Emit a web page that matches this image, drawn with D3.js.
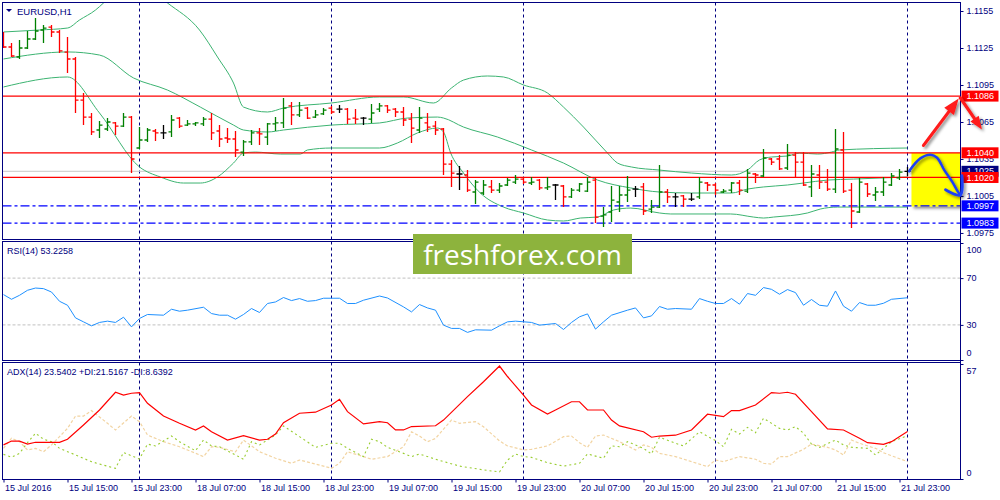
<!DOCTYPE html>
<html>
<head>
<meta charset="utf-8">
<script src="https://cdn.jsdelivr.net/npm/d3@7"></script>
<style>
  body { margin: 0; background: #fff; }
  svg { display: block; font-family: "Liberation Sans", Arial, sans-serif; }
</style>
</head>
<body>
<div id="chart"></div>
<script>
// ---- data ----
const symbolTitle = 'EURUSD,H1';
const rsiTitle = 'RSI(14) 53.2258';
const adxTitle = 'ADX(14) 23.5402 +DI:21.5167 -DI:8.6392';

const timeLabels = ['15 Jul 2016', '15 Jul 15:00', '15 Jul 23:00', '18 Jul 07:00', '18 Jul 15:00',
  '18 Jul 23:00', '19 Jul 07:00', '19 Jul 15:00', '19 Jul 23:00', '20 Jul 07:00', '20 Jul 15:00',
  '20 Jul 23:00', '21 Jul 07:00', '21 Jul 15:00', '21 Jul 23:00'];
const timeLabelBars = [0, 8, 16, 24, 32, 40, 48, 56, 64, 72, 80, 88, 96, 104, 112];
const daySeparators = [17, 41, 65, 89, 113];

const barOpen = [1.11282, 1.11258, 1.11177, 1.11250, 1.11323, 1.11396, 1.11420, 1.11380, 1.11217, 1.11161,
  1.10828, 1.10690, 1.10585, 1.10593, 1.10642, 1.10617, 1.10690, 1.10439, 1.10504, 1.10577,
  1.10561, 1.10569, 1.10682, 1.10625, 1.10634, 1.10634, 1.10674, 1.10577, 1.10520, 1.10512,
  1.10406, 1.10488, 1.10561, 1.10528, 1.10634, 1.10642, 1.10780, 1.10707, 1.10763, 1.10690,
  1.10715, 1.10763, 1.10755, 1.10755, 1.10682, 1.10682, 1.10674, 1.10755, 1.10780, 1.10755,
  1.10731, 1.10674, 1.10585, 1.10642, 1.10617, 1.10593, 1.10309, 1.10228, 1.10220, 1.10082,
  1.10074, 1.10123, 1.10098, 1.10139, 1.10163, 1.10187, 1.10155, 1.10179, 1.10115, 1.10139,
  1.10131, 1.10042, 1.10098, 1.10090, 1.10179, 1.09887, 1.09920, 1.10001, 1.10058, 1.10106,
  1.10123, 1.09944, 1.09960, 1.10082, 1.10042, 1.10050, 1.10025, 1.10042, 1.10155, 1.10139,
  1.10082, 1.10098, 1.10155, 1.10090, 1.10228, 1.10212, 1.10350, 1.10350, 1.10277, 1.10382,
  1.10325, 1.10123, 1.10220, 1.10163, 1.10106, 1.10423, 1.10098, 1.09920, 1.10147, 1.10058,
  1.10082, 1.10139, 1.10196, 1.10250];
const barHigh = [1.11380, 1.11290, 1.11315, 1.11388, 1.11493, 1.11436, 1.11436, 1.11396, 1.11339, 1.11177,
  1.10885, 1.10723, 1.10658, 1.10682, 1.10650, 1.10723, 1.10698, 1.10609, 1.10601, 1.10593,
  1.10625, 1.10707, 1.10690, 1.10666, 1.10650, 1.10690, 1.10723, 1.10625, 1.10601, 1.10577,
  1.10504, 1.10585, 1.10601, 1.10642, 1.10690, 1.10844, 1.10812, 1.10812, 1.10771, 1.10747,
  1.10763, 1.10780, 1.10788, 1.10763, 1.10755, 1.10690, 1.10796, 1.10804, 1.10788, 1.10763,
  1.10771, 1.10723, 1.10771, 1.10723, 1.10658, 1.10601, 1.10342, 1.10293, 1.10260, 1.10179,
  1.10179, 1.10179, 1.10155, 1.10196, 1.10220, 1.10204, 1.10204, 1.10187, 1.10204, 1.10147,
  1.10139, 1.10115, 1.10155, 1.10204, 1.10196, 1.09960, 1.10131, 1.10131, 1.10212, 1.10131,
  1.10155, 1.10017, 1.10301, 1.10106, 1.10074, 1.10058, 1.10074, 1.10204, 1.10163, 1.10155,
  1.10106, 1.10163, 1.10179, 1.10269, 1.10236, 1.10431, 1.10358, 1.10382, 1.10471, 1.10406,
  1.10406, 1.10301, 1.10301, 1.10269, 1.10593, 1.10569, 1.10155, 1.10196, 1.10155, 1.10123,
  1.10204, 1.10236, 1.10269, 1.10285];
const barLow = [1.11250, 1.11177, 1.11161, 1.11242, 1.11315, 1.11290, 1.11339, 1.11209, 1.11047, 1.10723,
  1.10625, 1.10544, 1.10520, 1.10577, 1.10544, 1.10609, 1.10236, 1.10431, 1.10488, 1.10496,
  1.10512, 1.10528, 1.10601, 1.10617, 1.10617, 1.10617, 1.10504, 1.10447, 1.10480, 1.10366,
  1.10374, 1.10463, 1.10463, 1.10463, 1.10577, 1.10601, 1.10625, 1.10690, 1.10674, 1.10682,
  1.10707, 1.10715, 1.10723, 1.10634, 1.10634, 1.10625, 1.10642, 1.10731, 1.10723, 1.10690,
  1.10617, 1.10480, 1.10561, 1.10569, 1.10544, 1.10220, 1.10123, 1.10098, 1.10082, 1.09985,
  1.10058, 1.10074, 1.10074, 1.10131, 1.10147, 1.10147, 1.10139, 1.10098, 1.10098, 1.10017,
  1.09960, 1.10034, 1.10082, 1.10082, 1.09831, 1.09798, 1.09839, 1.09920, 1.10001, 1.10042,
  1.09896, 1.09912, 1.09952, 1.09993, 1.09960, 1.09960, 1.10009, 1.10025, 1.10090, 1.10058,
  1.10074, 1.10074, 1.10058, 1.10074, 1.10155, 1.10204, 1.10301, 1.10260, 1.10260, 1.10204,
  1.10131, 1.10042, 1.10106, 1.10090, 1.10074, 1.10074, 1.09790, 1.09912, 1.10042, 1.10009,
  1.10050, 1.10131, 1.10179, 1.10212];
const barClose = [1.11258, 1.11185, 1.11250, 1.11323, 1.11388, 1.11412, 1.11380, 1.11226, 1.11161, 1.10828,
  1.10690, 1.10569, 1.10625, 1.10650, 1.10617, 1.10690, 1.10350, 1.10504, 1.10585, 1.10561,
  1.10561, 1.10666, 1.10617, 1.10634, 1.10642, 1.10674, 1.10561, 1.10512, 1.10512, 1.10423,
  1.10488, 1.10561, 1.10553, 1.10634, 1.10642, 1.10763, 1.10707, 1.10747, 1.10682, 1.10707,
  1.10747, 1.10731, 1.10755, 1.10674, 1.10674, 1.10682, 1.10723, 1.10780, 1.10747, 1.10731,
  1.10666, 1.10601, 1.10682, 1.10609, 1.10585, 1.10309, 1.10236, 1.10228, 1.10098, 1.10163,
  1.10139, 1.10098, 1.10131, 1.10179, 1.10187, 1.10163, 1.10163, 1.10115, 1.10123, 1.10139,
  1.10042, 1.10098, 1.10147, 1.10163, 1.09879, 1.09896, 1.10017, 1.10058, 1.10098, 1.10106,
  1.09928, 1.09960, 1.10082, 1.10042, 1.10042, 1.10025, 1.10025, 1.10163, 1.10139, 1.10098,
  1.10090, 1.10155, 1.10098, 1.10236, 1.10220, 1.10358, 1.10325, 1.10269, 1.10382, 1.10325,
  1.10139, 1.10228, 1.10163, 1.10106, 1.10431, 1.10090, 1.09928, 1.10163, 1.10066, 1.10082,
  1.10163, 1.10212, 1.10244, 1.10250];

// Bollinger bands, [bar, price]
const bbUpper = [[0, 1.11380], [4.5, 1.11396], [8, 1.11412], [9.5, 1.11477], [11.5, 1.11558], [12.5, 1.11615],
  [14.5, 1.11736], [17, 1.11761], [19, 1.11688], [20.5, 1.11615], [24.5, 1.11396], [26.75, 1.11177],
  [28.75, 1.10966], [30, 1.10771], [33, 1.10731], [35, 1.10763], [41, 1.10804], [47, 1.10853],
  [50, 1.10853], [53.75, 1.10804], [56, 1.10926], [57.5, 1.10990], [60.5, 1.11023], [62.5, 1.11015],
  [65, 1.10950], [68, 1.10885], [70, 1.10771], [72.5, 1.10609], [75.5, 1.10398], [76.75, 1.10317],
  [78.5, 1.10285], [82, 1.10260], [86, 1.10236], [91, 1.10220], [93, 1.10260], [94.5, 1.10342],
  [96, 1.10366], [98, 1.10374], [99.5, 1.10398], [101.75, 1.10390], [103.5, 1.10406], [104.5, 1.10423],
  [113, 1.10439]];
const bbMiddle = [[0, 1.11161], [8, 1.11218], [12, 1.11193], [16.25, 1.11007], [20.5, 1.10909], [24.6, 1.10771],
  [28.75, 1.10625], [30, 1.10585], [33, 1.10569], [35, 1.10585], [41, 1.10625], [47, 1.10642],
  [50.5, 1.10682], [54.25, 1.10690], [55, 1.10682], [57.5, 1.10609], [61.75, 1.10528], [66, 1.10423],
  [70, 1.10317], [74.25, 1.10179], [78.4, 1.10115], [82, 1.10082], [86, 1.10074], [91, 1.10074],
  [93, 1.10106], [95, 1.10123], [98, 1.10139], [100, 1.10155], [103, 1.10179], [106.25, 1.10187],
  [113, 1.10204]];
const bbLower = [[0, 1.10934], [8, 1.11015], [12, 1.10723], [17, 1.10285], [19.6, 1.10204], [22.5, 1.10155],
  [24.6, 1.10155], [26.75, 1.10204], [28.75, 1.10317], [30, 1.10398], [31.5, 1.10406], [34.6, 1.10390],
  [37.1, 1.10390], [38, 1.10423], [41, 1.10439], [47, 1.10439], [49.25, 1.10480], [51.75, 1.10561],
  [54.25, 1.10601], [55, 1.10569], [55.9, 1.10398], [57.5, 1.10236], [59.6, 1.10074], [62.5, 1.09960],
  [65, 1.09912], [68, 1.09855], [70, 1.09847], [72.1, 1.09871], [74.25, 1.09879], [76.25, 1.09936],
  [78.4, 1.09952], [82, 1.09912], [83.4, 1.09904], [90.9, 1.09904], [93.75, 1.09879], [95, 1.09871],
  [96.25, 1.09879], [100.5, 1.09912], [102.1, 1.09944], [104.25, 1.09960], [113, 1.09960]];

const redLevels = [1.1086, 1.1040, 1.1020];
const blueLevels = [1.0997, 1.0983];
const bidPrice = 1.1025;
const priceTicks = [1.1155, 1.1125, 1.1095, 1.1065, 1.1035, 1.1005, 1.0975];
const priceMarks = [1.1086, 1.1040, 1.1025, 1.1020, 1.0997, 1.0983];
const priceMarkColors = ['#ff0000', '#ff0000', '#000080', '#ff0000', '#0000ff', '#0000ff'];

// RSI(14), [bar, value]
const rsi = [[0, 55.9], [1, 51.9], [2, 55.3], [3, 59.6], [4, 61.5], [5, 61.0], [6, 58.1], [7, 50.2], [8, 46.8],
  [9, 36.0], [10, 32.6], [11, 29.2], [12, 32.1], [13, 33.2], [14, 32.1], [15, 36.6], [16, 28.3], [17, 35.5],
  [18, 38.9], [20, 38.3], [21, 43.4], [22, 41.7], [23, 42.6], [25, 45.1], [26, 39.7], [27, 38.3], [28, 38.3],
  [29, 34.9], [30, 38.9], [31, 44.0], [32, 40.6], [33, 48.3], [34, 49.6], [35, 53.4], [36, 50.8], [37, 52.5],
  [38, 50.2], [39, 50.8], [40, 52.8], [42, 52.8], [43, 48.3], [44, 48.3], [45, 51.1], [47, 54.7], [48, 53.0],
  [50, 45.4], [51, 41.1], [52, 47.4], [53, 44.5], [54, 42.6], [55, 29.8], [56, 27.0], [57, 27.0], [58, 23.6],
  [59, 25.8], [61, 25.5], [62, 29.2], [63, 32.6], [64, 33.2], [66, 32.1], [67, 29.8], [69, 31.2], [70, 26.1],
  [71, 32.1], [72, 36.9], [73, 39.4], [74, 26.4], [75, 32.6], [76, 38.3], [78, 42.6], [79, 44.5], [80, 36.0],
  [81, 37.7], [82, 45.7], [83, 43.4], [84, 44.0], [86, 43.4], [87, 52.5], [88, 50.2], [89, 48.3], [90, 48.3],
  [91, 52.5], [92, 47.7], [93, 56.8], [94, 55.3], [95, 61.9], [96, 60.4], [97, 56.2], [98, 60.2], [99, 57.6],
  [100, 46.8], [101, 51.7], [102, 46.8], [103, 46.0], [104, 59.0], [105, 46.0], [106, 41.7], [107, 49.1],
  [108, 46.8], [109, 46.8], [110, 48.5], [111, 51.9], [113, 53.2]];
const rsiLevels = [70, 30];
const rsiTicks = [100, 70, 30, 0];

// ADX(14), +DI, -DI, [bar, value]
const adx = [[0, 16.9], [1, 18.8], [2, 18.8], [3, 17.3], [4, 18.2], [7, 18.2], [8, 19.7], [10, 26.8], [12, 34.2],
  [14, 43.0], [15, 41.6], [16, 42.5], [17, 42.8], [18, 37.5], [20, 31.2], [22, 27.6], [24, 24.3], [25, 26.3],
  [26, 23.4], [28, 19.3], [30, 21.5], [32, 19.3], [33, 19.7], [34, 22.3], [35, 27.9], [37, 32.6], [39, 33.1],
  [41, 36.7], [42, 39.5], [43, 33.4], [45, 27.3], [47, 28.4], [48, 27.9], [49, 24.3], [50, 24.3], [51, 26.0],
  [54, 26.4], [55, 29.2], [58, 40.8], [60, 48.2], [62, 56.0], [63, 50.8], [65, 41.6], [66, 36.7], [68, 32.2],
  [69, 34.2], [71, 38.3], [72, 38.3], [73, 34.2], [75, 34.2], [76, 29.2], [77, 26.3], [80, 23.4], [81, 20.7],
  [82, 21.3], [84, 21.7], [86, 24.3], [88, 32.1], [90, 30.9], [91, 33.9], [92, 33.9], [94, 36.7], [96, 42.8],
  [97, 42.5], [98, 43.0], [99, 42.0], [101, 33.4], [103, 24.8], [105, 24.3], [107, 20.2], [108, 18.0],
  [110, 17.2], [111, 18.5], [113, 23.5]];
const plusDi = [[0, 12.2], [1, 10.8], [2, 12.7], [3, 18.0], [4, 22.7], [5, 19.7], [6, 18.5], [7, 15.2], [9, 11.9],
  [11, 8.6], [12, 7.4], [14, 5.3], [15, 13.2], [16, 11.5], [17, 9.9], [18, 17.3], [19, 16.4], [21, 21.3],
  [22, 18.5], [24, 14.0], [25, 19.3], [26, 16.4], [27, 16.0], [29, 11.9], [30, 9.8], [31, 18.5], [32, 16.9],
  [33, 19.3], [34, 21.8], [35, 26.3], [37, 21.0], [39, 15.7], [41, 17.7], [42, 17.7], [43, 15.2], [45, 11.1],
  [46, 19.7], [47, 18.5], [48, 15.7], [50, 12.7], [51, 11.1], [52, 12.4], [54, 9.8], [57, 6.4], [60, 4.5],
  [62, 3.5], [63, 9.4], [64, 12.4], [65, 11.1], [66, 10.7], [68, 8.1], [70, 6.4], [72, 7.8], [73, 12.4],
  [75, 10.3], [76, 16.4], [77, 16.0], [78, 18.5], [80, 15.2], [81, 12.4], [82, 20.7], [84, 17.7], [85, 16.4],
  [87, 23.4], [89, 19.0], [90, 16.0], [91, 24.6], [92, 22.3], [93, 25.6], [94, 22.9], [95, 30.1], [97, 25.1],
  [98, 24.3], [99, 25.9], [100, 22.7], [101, 17.3], [102, 15.7], [104, 19.3], [105, 16.9], [106, 15.7],
  [108, 15.2], [109, 11.9], [110, 15.2], [111, 18.5], [113, 21.5]];
const minusDi = [[0, 15.2], [1, 20.2], [2, 18.5], [3, 14.4], [4, 15.2], [5, 13.5], [6, 16.9], [8, 25.1], [9, 31.2],
  [10, 31.2], [11, 33.9], [13, 27.6], [14, 24.3], [16, 31.2], [17, 28.4], [18, 21.8], [20, 18.5], [22, 16.0],
  [23, 14.4], [25, 11.1], [26, 16.0], [27, 15.7], [29, 13.5], [30, 19.3], [32, 13.5], [34, 10.3], [36, 7.8],
  [37, 9.4], [40, 6.4], [41, 5.3], [42, 7.8], [43, 13.5], [45, 11.1], [46, 9.8], [48, 11.1], [50, 16.0],
  [51, 23.4], [52, 21.3], [53, 18.5], [54, 20.1], [56, 29.2], [57, 27.6], [59, 28.4], [60, 25.9], [62, 18.9],
  [63, 16.4], [65, 14.4], [66, 14.7], [68, 16.4], [70, 21.0], [71, 21.3], [72, 18.0], [73, 15.7], [74, 21.3],
  [75, 21.8], [77, 18.5], [79, 14.4], [80, 16.9], [81, 15.7], [82, 12.7], [84, 11.1], [86, 8.6], [88, 6.1],
  [89, 9.4], [90, 8.6], [92, 11.1], [94, 9.8], [95, 7.8], [96, 7.4], [97, 11.1], [98, 11.1], [100, 14.7],
  [101, 17.3], [103, 15.7], [104, 14.4], [105, 11.9], [106, 19.3], [107, 17.7], [109, 15.2], [110, 13.0],
  [113, 8.6]];
const adxTicks = [57, 0];

// hand-drawn forecast, [bar, price]
const forecastBox = [[113.5, 1.1040], [119.6, 1.09965]];
const blueCurve = [[113.2, 1.10250], [114.6, 1.10355], [115.9, 1.10385], [116.7, 1.10360], [117.6, 1.10260],
  [118.6, 1.10165], [119.3, 1.10085], [119.6, 1.10058]];
const blueHead = [[117.75, 1.10100], [119.6, 1.10058], [119.8, 1.10215]];
const redArrowUp = [[115.0, 1.10460], [119.4, 1.10840]];
const redArrowDown = [[119.6, 1.10845], [122.3, 1.10590]];

// ---- layout ----
const width = 1000, height = 500;
const left = 2.5, right = 960.5;
const navy = '#000080';

const svg = d3.select('#chart').append('svg')
  .attr('width', width)
  .attr('height', height);

const defs = svg.append('defs');
const shadow = defs.append('filter').attr('id', 'shadow')
  .attr('x', '-20%').attr('y', '-20%').attr('width', '150%').attr('height', '150%');
shadow.append('feDropShadow')
  .attr('dx', 2).attr('dy', 2).attr('stdDeviation', 1.5)
  .attr('flood-color', '#000').attr('flood-opacity', 0.45);

const panels = [
  { id: 'main', top: 2.5, bottom: 239.5 },
  { id: 'rsi', top: 241.5, bottom: 360.5 },
  { id: 'adx', top: 362.5, bottom: 479.5 }
];
panels.forEach(p => {
  defs.append('clipPath').attr('id', 'clip-' + p.id)
    .append('rect')
    .attr('x', left).attr('y', p.top)
    .attr('width', right - left).attr('height', p.bottom - p.top);
});

const x = d3.scaleLinear().domain([0, 119.625]).range([3.5, 960.5]);
const yMain = d3.scaleLinear().domain([1.09701, 1.11615]).range([239, 3]);
const yRsi = d3.scaleLinear().domain([0, 100]).range([360, 243]);
const yAdx = d3.scaleLinear().domain([0, 57]).range([479, 364]);

// period separators
panels.forEach(p => {
  svg.append('g').selectAll('line')
    .data(daySeparators)
    .enter()
    .append('line')
    .attr('x1', d => x(d)).attr('x2', d => x(d))
    .attr('y1', p.top).attr('y2', p.bottom)
    .attr('stroke', navy)
    .attr('stroke-dasharray', '3,3');
});

// ---- main panel ----
const main = svg.append('g').attr('clip-path', 'url(#clip-main)');

main.append('line')
  .attr('x1', left).attr('x2', right)
  .attr('y1', yMain(bidPrice)).attr('y2', yMain(bidPrice))
  .attr('stroke', '#c8c8c8');

// forecast box sits under the level lines
main.append('rect')
  .attr('x', x(forecastBox[0][0]))
  .attr('y', yMain(forecastBox[0][1]))
  .attr('width', x(forecastBox[1][0]) - x(forecastBox[0][0]))
  .attr('height', yMain(forecastBox[1][1]) - yMain(forecastBox[0][1]))
  .attr('fill', '#ffff00')
  .attr('filter', 'url(#shadow)');

const bandLine = d3.line().x(d => x(d[0])).y(d => yMain(d[1])).curve(d3.curveMonotoneX);
[bbUpper, bbMiddle, bbLower].forEach(band => {
  main.append('path')
    .attr('d', bandLine(band))
    .attr('fill', 'none')
    .attr('stroke', '#3cb371')
    .attr('stroke-width', 1);
});

main.selectAll('.red-level')
  .data(redLevels)
  .enter()
  .append('line')
  .attr('class', 'red-level')
  .attr('x1', left).attr('x2', right)
  .attr('y1', d => yMain(d)).attr('y2', d => yMain(d))
  .attr('stroke', '#ff0000')
  .attr('stroke-width', 1.2);

main.selectAll('.blue-level')
  .data(blueLevels)
  .enter()
  .append('line')
  .attr('class', 'blue-level')
  .attr('x1', left).attr('x2', right)
  .attr('y1', d => yMain(d)).attr('y2', d => yMain(d))
  .attr('stroke', '#0000ff')
  .attr('stroke-width', 1.3)
  .attr('stroke-dasharray', '9,3,3,3');

const bars = barOpen.map((o, i) => ({ i: i, o: o, h: barHigh[i], l: barLow[i], c: barClose[i] }));
const barColor = d => d.c > d.o ? '#008000' : (d.c < d.o ? '#ff0000' : '#000000');

const barG = main.selectAll('.bar')
  .data(bars)
  .enter()
  .append('g')
  .attr('class', 'bar')
  .attr('stroke', barColor)
  .attr('stroke-width', 1.3);
barG.append('line')
  .attr('x1', d => x(d.i)).attr('x2', d => x(d.i))
  .attr('y1', d => yMain(d.h)).attr('y2', d => yMain(d.l));
barG.append('line')
  .attr('x1', d => x(d.i) - 3).attr('x2', d => x(d.i))
  .attr('y1', d => yMain(d.o)).attr('y2', d => yMain(d.o));
barG.append('line')
  .attr('x1', d => x(d.i)).attr('x2', d => x(d.i) + 3)
  .attr('y1', d => yMain(d.c)).attr('y2', d => yMain(d.c));

// ---- RSI panel ----
const rsiG = svg.append('g').attr('clip-path', 'url(#clip-rsi)');
rsiG.selectAll('.rsi-level')
  .data(rsiLevels)
  .enter()
  .append('line')
  .attr('x1', left).attr('x2', right)
  .attr('y1', d => yRsi(d)).attr('y2', d => yRsi(d))
  .attr('stroke', '#c0c0c0')
  .attr('stroke-dasharray', '3,2');
rsiG.append('path')
  .attr('d', d3.line().x(d => x(d[0])).y(d => yRsi(d[1]))(rsi))
  .attr('fill', 'none')
  .attr('stroke', '#1e90ff')
  .attr('stroke-width', 1);

// ---- ADX panel ----
const adxG = svg.append('g').attr('clip-path', 'url(#clip-adx)');
const adxLine = d3.line().x(d => x(d[0])).y(d => yAdx(d[1]));
adxG.append('path')
  .attr('d', adxLine(minusDi))
  .attr('fill', 'none')
  .attr('stroke', '#f2d4a2')
  .attr('stroke-width', 1.2)
  .attr('stroke-dasharray', '3,2');
adxG.append('path')
  .attr('d', adxLine(plusDi))
  .attr('fill', 'none')
  .attr('stroke', '#9acd32')
  .attr('stroke-width', 1.1)
  .attr('stroke-dasharray', '2,3');
adxG.append('path')
  .attr('d', adxLine(adx))
  .attr('fill', 'none')
  .attr('stroke', '#ff0000')
  .attr('stroke-width', 1.2);

// panel frames
panels.forEach(p => {
  svg.append('rect')
    .attr('x', left).attr('y', p.top)
    .attr('width', right - left).attr('height', p.bottom - p.top)
    .attr('fill', 'none')
    .attr('stroke', navy);
});

// ---- axes ----
const priceAxis = svg.append('g')
  .attr('transform', 'translate(' + right + ',0)')
  .style('color', navy)
  .call(d3.axisRight(yMain).tickValues(priceTicks).tickSize(3).tickSizeOuter(0)
    .tickPadding(3).tickFormat(d3.format('.4f')));
priceAxis.select('.domain').remove();
priceAxis.selectAll('text').attr('font-size', 9).attr('font-family', 'Liberation Sans, Arial, sans-serif');

const rsiAxis = svg.append('g')
  .attr('transform', 'translate(' + right + ',0)')
  .style('color', navy)
  .call(d3.axisRight(yRsi).tickValues(rsiTicks).tickSize(3).tickSizeOuter(0).tickPadding(3));
rsiAxis.select('.domain').remove();
rsiAxis.selectAll('text')
  .attr('font-size', 9).attr('font-family', 'Liberation Sans, Arial, sans-serif')
  .attr('dy', d => d === 100 ? '1.0em' : (d === 0 ? '-0.45em' : '0.32em'));

const adxAxis = svg.append('g')
  .attr('transform', 'translate(' + right + ',0)')
  .style('color', navy)
  .call(d3.axisRight(yAdx).tickValues(adxTicks).tickSize(3).tickSizeOuter(0).tickPadding(3));
adxAxis.select('.domain').remove();
adxAxis.selectAll('text')
  .attr('font-size', 9).attr('font-family', 'Liberation Sans, Arial, sans-serif')
  .attr('dy', d => d === 57 ? '1.0em' : '-0.4em');

svg.append('line')
  .attr('x1', right).attr('x2', right)
  .attr('y1', 2.5).attr('y2', 479.5)
  .attr('stroke', navy);

const timeAxis = svg.append('g')
  .attr('transform', 'translate(0,479.5)')
  .style('color', navy)
  .call(d3.axisBottom(x).tickValues(timeLabelBars).tickSize(3).tickSizeOuter(0)
    .tickFormat((d, i) => timeLabels[i]));
timeAxis.select('.domain').remove();
timeAxis.selectAll('text')
  .attr('font-size', 9).attr('font-family', 'Liberation Sans, Arial, sans-serif')
  .attr('text-anchor', 'start')
  .attr('x', 1)
  .attr('y', 5);

// highlighted prices on the axis
const marks = svg.append('g');
priceMarks.forEach((p, i) => {
  marks.append('rect')
    .attr('x', right + 1).attr('y', yMain(p) - 5.5)
    .attr('width', 37).attr('height', 11)
    .attr('fill', priceMarkColors[i]);
  marks.append('text')
    .attr('x', right + 6).attr('y', yMain(p))
    .attr('dy', '0.34em')
    .attr('fill', '#fff')
    .attr('font-size', 9)
    .text(d3.format('.4f')(p));
});

// ---- titles ----
svg.append('path')
  .attr('d', 'M6,9 L12,9 L9,12 Z')
  .attr('fill', navy);
svg.append('text')
  .attr('x', 17).attr('y', 14.5)
  .attr('fill', navy)
  .attr('font-size', 9.5)
  .text(symbolTitle);
svg.append('text')
  .attr('x', 7).attr('y', 254)
  .attr('fill', navy)
  .attr('font-size', 9)
  .text(rsiTitle);
svg.append('text')
  .attr('x', 7).attr('y', 375)
  .attr('fill', navy)
  .attr('font-size', 9)
  .text(adxTitle);

// ---- hand-drawn forecast ----
const sketch = svg.append('g').attr('filter', 'url(#shadow)');
const pt = d => [x(d[0]), yMain(d[1])];

sketch.append('path')
  .attr('d', d3.line().x(d => x(d[0])).y(d => yMain(d[1])).curve(d3.curveCatmullRom)(blueCurve))
  .attr('fill', 'none')
  .attr('stroke', '#1f3ff5')
  .attr('stroke-width', 2.5)
  .attr('stroke-linecap', 'round');
sketch.append('path')
  .attr('d', d3.line().x(d => x(d[0])).y(d => yMain(d[1])).curve(d3.curveCatmullRom)(blueHead))
  .attr('fill', 'none')
  .attr('stroke', '#1f3ff5')
  .attr('stroke-width', 2.8)
  .attr('stroke-linecap', 'round')
  .attr('stroke-linejoin', 'round');

function arrow(points, headLen, headWidth) {
  const [x0, y0] = pt(points[0]);
  const [x1, y1] = pt(points[1]);
  const ang = Math.atan2(y1 - y0, x1 - x0);
  const bx = x1 - headLen * Math.cos(ang), by = y1 - headLen * Math.sin(ang);
  const nx = -Math.sin(ang), ny = Math.cos(ang);
  sketch.append('line')
    .attr('x1', x0).attr('y1', y0).attr('x2', bx).attr('y2', by)
    .attr('stroke', '#ff1a1a')
    .attr('stroke-width', 3.2)
    .attr('stroke-linecap', 'round');
  sketch.append('path')
    .attr('d', 'M' + x1 + ',' + y1 +
      'L' + (bx + nx * headWidth) + ',' + (by + ny * headWidth) +
      'L' + (bx - nx * headWidth) + ',' + (by - ny * headWidth) + 'Z')
    .attr('fill', '#ff1a1a');
}
arrow(redArrowUp, 16, 6);
arrow(redArrowDown, 13, 5);

// ---- watermark ----
svg.append('rect')
  .attr('x', 413).attr('y', 234)
  .attr('width', 219).attr('height', 40)
  .attr('fill', '#8db33d');
svg.append('text')
  .attr('x', 522.5).attr('y', 265)
  .attr('text-anchor', 'middle')
  .attr('fill', '#fff')
  .attr('font-family', '"Open Sans", "Noto Sans", sans-serif')
  .attr('font-size', 28)
  .text('freshforex.com');
</script>
</body>
</html>
